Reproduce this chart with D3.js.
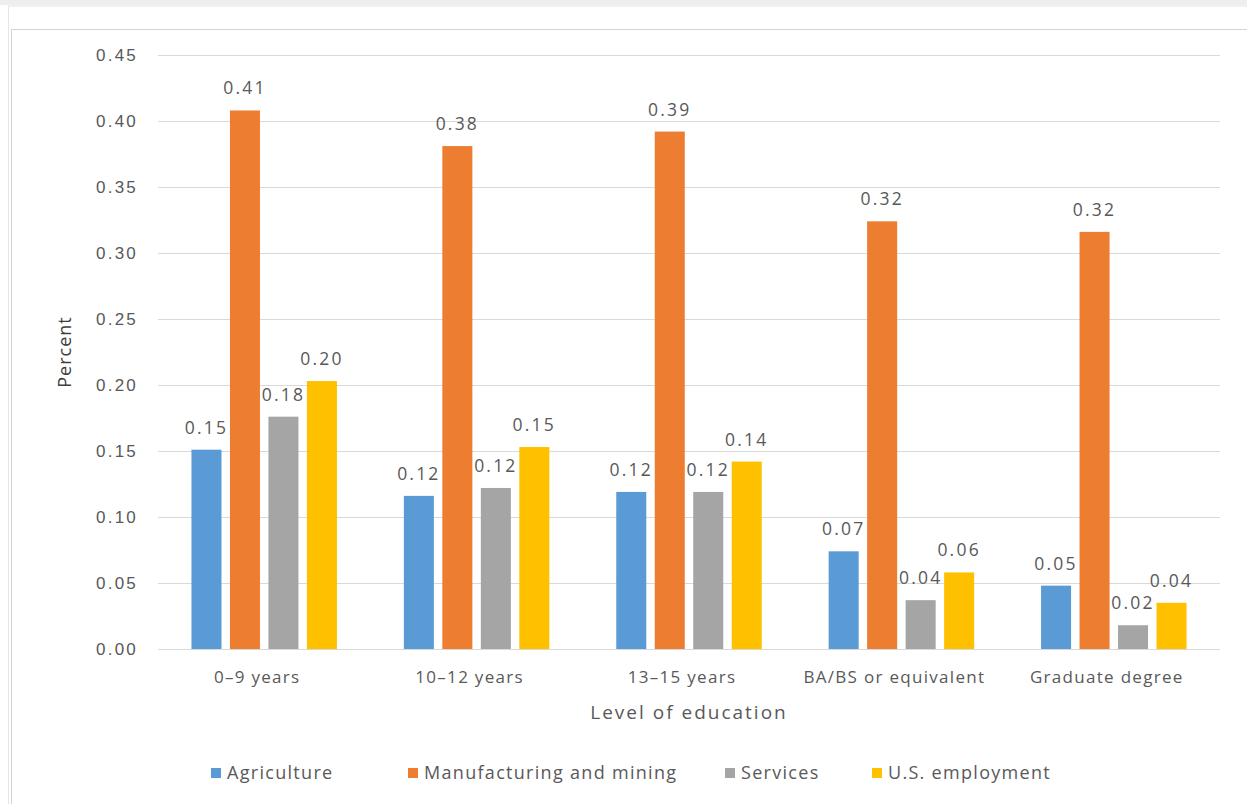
<!DOCTYPE html>
<html>
<head>
<meta charset="utf-8">
<script src="https://cdn.jsdelivr.net/npm/d3@7"></script>
<style>
  body { margin: 0; background: #fff; }
  svg { display: block; font-family: "Open Sans", "DejaVu Sans", sans-serif; }
</style>
</head>
<body>
<svg id="chart" width="1247" height="804"></svg>
<script>
// data
const categories = ['0\u20139 years', '10\u201312 years', '13\u201315 years', 'BA/BS or equivalent', 'Graduate degree']
const seriesNames = ['Agriculture', 'Manufacturing and mining', 'Services', 'U.S. employment']
const agriculture = [0.151, 0.116, 0.119, 0.074, 0.048]
const manufacturing = [0.408, 0.381, 0.392, 0.324, 0.316]
const services = [0.176, 0.122, 0.119, 0.037, 0.018]
const usEmployment = [0.203, 0.153, 0.142, 0.058, 0.035]
const yTicks = [0, 0.05, 0.1, 0.15, 0.2, 0.25, 0.3, 0.35, 0.4, 0.45]
const colors = ['#5B9BD5', '#ED7D31', '#A5A5A5', '#FFC000']

const seriesValues = [agriculture, manufacturing, services, usEmployment]
const rows = categories.map((c, i) => ({
  category: c,
  values: seriesNames.map((s, j) => ({series: s, value: seriesValues[j][i]}))
}))

const width = 1247
const height = 804
const marginLeft = 158
const marginRight = 27
const marginTop = 55
const marginBottom = 155
const textColor = '#595959'

const svg = d3.select('#chart')

// frame around the picture
svg.append('rect').attr('x', 0).attr('y', 0).attr('width', width).attr('height', 5).attr('fill', '#eeeeee')
svg.append('line').attr('x1', 8).attr('x2', width).attr('y1', 6).attr('y2', 6).attr('stroke', '#e2e2e2')
svg.append('line').attr('x1', 8.5).attr('x2', 8.5).attr('y1', 6).attr('y2', height).attr('stroke', '#e6e6e6')
svg.append('line').attr('x1', 11).attr('x2', width).attr('y1', 29.5).attr('y2', 29.5).attr('stroke', '#d4d4d4')
svg.append('line').attr('x1', 11.5).attr('x2', 11.5).attr('y1', 29).attr('y2', height).attr('stroke', '#d4d4d4')

const x0 = d3.scaleBand()
  .domain(categories)
  .range([marginLeft, width - marginRight])
  .paddingInner(0.315)
  .paddingOuter(0.1575)

const x1 = d3.scaleBand()
  .domain(seriesNames)
  .range([0, x0.bandwidth()])
  .paddingInner(0.22)

const y = d3.scaleLinear()
  .domain([0, 0.45])
  .range([height - marginBottom, marginTop])

const color = d3.scaleOrdinal().domain(seriesNames).range(colors)

// gridlines and y labels
const yAxis = svg.append('g')
  .attr('transform', `translate(${marginLeft},0)`)
  .call(d3.axisLeft(y).tickValues(yTicks).tickFormat(d3.format('.2f'))
    .tickSize(-(width - marginLeft - marginRight)).tickPadding(20))
yAxis.select('.domain').remove()
yAxis.selectAll('.tick line').attr('stroke', '#d9d9d9').attr('stroke-width', 1.2)
yAxis.selectAll('.tick text')
  .attr('fill', textColor)
  .attr('font-size', 17)
  .attr('letter-spacing', 2.2)

// bars
const groups = svg.append('g').selectAll('g')
  .data(rows)
  .join('g')
  .attr('transform', d => `translate(${x0(d.category)},0)`)

groups.selectAll('rect')
  .data(d => d.values)
  .join('rect')
  .attr('x', d => x1(d.series))
  .attr('y', d => y(d.value))
  .attr('width', x1.bandwidth())
  .attr('height', d => y(0) - y(d.value))
  .attr('fill', d => color(d.series))

groups.selectAll('text')
  .data(d => d.values)
  .join('text')
  .attr('x', d => x1(d.series) + x1.bandwidth() / 2)
  .attr('y', d => y(d.value) - 16)
  .attr('text-anchor', 'middle')
  .attr('fill', textColor)
  .attr('font-size', 17.5)
  .attr('letter-spacing', 2.2)
  .text(d => d3.format('.2f')(d.value))

// category labels
svg.append('g').selectAll('text')
  .data(categories)
  .join('text')
  .attr('x', d => x0(d) + x0.bandwidth() / 2 - 7)
  .attr('y', 683)
  .attr('text-anchor', 'middle')
  .attr('fill', textColor)
  .attr('font-size', 17)
  .attr('letter-spacing', 1.3)
  .text(d => d)

// axis titles
svg.append('text')
  .attr('x', 689)
  .attr('y', 719)
  .attr('text-anchor', 'middle')
  .attr('fill', textColor)
  .attr('font-size', 19)
  .attr('letter-spacing', 2)
  .text('Level of education')

svg.append('text')
  .attr('transform', `translate(71,${(y(0) + y(0.45)) / 2}) rotate(-90)`)
  .attr('text-anchor', 'middle')
  .attr('fill', '#404040')
  .attr('font-size', 18)
  .attr('letter-spacing', 1)
  .text('Percent')

// legend
const legendX = [211, 408, 725, 872]
const legend = svg.append('g').selectAll('g')
  .data(seriesNames)
  .join('g')
  .attr('transform', (d, i) => `translate(${legendX[i]},768)`)
legend.append('rect')
  .attr('width', 10).attr('height', 10)
  .attr('fill', d => color(d))
legend.append('text')
  .attr('x', 16)
  .attr('y', 11)
  .attr('fill', textColor)
  .attr('font-size', 18)
  .attr('letter-spacing', 1.3)
  .text(d => d)
</script>
</body>
</html>
